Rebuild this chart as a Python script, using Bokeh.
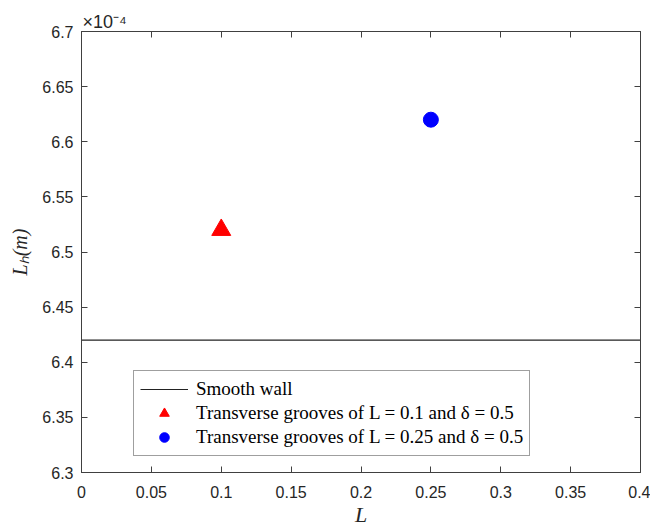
from bokeh.plotting import figure
from bokeh.models import (LinearAxis, FixedTicker, Legend, LegendItem, Range1d,
                          CustomJSTickFormatter)
from bokeh.embed import file_html
from bokeh.resources import INLINE

# ---- data (Lh values in units of 1e-4 m) ----
x_smooth = [0.0, 0.4]
lh_smooth = [6.42, 6.42]
x_grooves_01 = [0.1]
lh_grooves_01 = [6.52]
x_grooves_025 = [0.25]
lh_grooves_025 = [6.62]

x_ticks = [0, 0.05, 0.1, 0.15, 0.2, 0.25, 0.3, 0.35, 0.4]
x_tick_labels = ["0", "0.05", "0.1", "0.15", "0.2", "0.25", "0.3", "0.35", "0.4"]
y_ticks = [6.3, 6.35, 6.4, 6.45, 6.5, 6.55, 6.6, 6.65, 6.7]
y_tick_labels = ["6.3", "6.35", "6.4", "6.45", "6.5", "6.55", "6.6", "6.65", "6.7"]

legend_labels = ["Smooth wall",
                 "Transverse grooves of L = 0.1 and \u03b4 = 0.5",
                 "Transverse grooves of L = 0.25 and \u03b4 = 0.5"]
scale_text = "\u00d710\u207b\u2074"

AX = "#404040"
TXT = "#262626"
SANS = "Liberation Sans"
SERIF = "Liberation Serif"

p = figure(frame_width=559, frame_height=441,
           min_border_left=81, min_border_right=10,
           min_border_top=31, min_border_bottom=52,
           x_range=Range1d(0, 0.4), y_range=Range1d(6.3, 6.7),
           output_backend="svg", toolbar_location=None,
           background_fill_color="white", border_fill_color="white")
p.xgrid.visible = False
p.ygrid.visible = False
p.outline_line_color = AX
p.outline_line_width = 1

# exponent shown above the frame
p.title.text = scale_text
p.title.align = "left"
p.title.offset = 1
p.title.text_font = SANS
p.title.text_font_style = "normal"
p.title.text_font_size = "18px"
p.title.text_color = TXT
p.title.standoff = 0

# smooth wall line
r_smooth = p.line(x_smooth, lh_smooth, line_color="#222222", line_width=1.2)
r_tri = p.scatter(x_grooves_01, lh_grooves_01, marker="triangle", size=19,
                  fill_color="#ff0000", line_color="#ff0000")
r_circ = p.scatter(x_grooves_025, lh_grooves_025, marker="circle", size=15,
                   fill_color="#0000ff", line_color="#0000ff")

def style_axis(ax, labels_on):
    ax.axis_line_color = AX
    ax.major_tick_line_color = AX
    ax.major_tick_in = 6
    ax.major_tick_out = 0
    ax.minor_tick_line_color = None
    ax.major_label_text_color = TXT
    ax.major_label_text_font = SANS
    ax.major_label_text_font_size = "16px"
    if not labels_on:
        ax.formatter = CustomJSTickFormatter(code="return '';")
        ax.major_label_standoff = 0

xa = p.xaxis[0]
xa.ticker = FixedTicker(ticks=x_ticks)
xa.major_label_overrides = {t: s for t, s in zip(x_ticks, x_tick_labels)}
style_axis(xa, True)
xa.major_label_standoff = 13
xa.axis_label = "L"
xa.axis_label_text_font = SERIF
xa.axis_label_text_font_style = "italic"
xa.axis_label_text_font_size = "22px"
xa.axis_label_text_color = TXT
xa.axis_label_standoff = 1

ya = p.yaxis[0]
ya.ticker = FixedTicker(ticks=y_ticks)
ya.major_label_overrides = {t: s for t, s in zip(y_ticks, y_tick_labels)}
style_axis(ya, True)
ya.major_label_standoff = 8
ya.axis_label = "L\u2095(m)"
ya.axis_label_text_font = SERIF
ya.axis_label_text_font_style = "italic"
ya.axis_label_text_font_size = "20px"
ya.axis_label_text_color = TXT
ya.axis_label_standoff = 8

top_ax = LinearAxis(ticker=FixedTicker(ticks=x_ticks))
style_axis(top_ax, False)
p.add_layout(top_ax, "above")
right_ax = LinearAxis(ticker=FixedTicker(ticks=y_ticks))
style_axis(right_ax, False)
p.add_layout(right_ax, "right")

legend = Legend(items=[LegendItem(label=legend_labels[0], renderers=[r_smooth]),
                       LegendItem(label=legend_labels[1], renderers=[r_tri]),
                       LegendItem(label=legend_labels[2], renderers=[r_circ])],
                location=(52, 16))
legend.label_text_font = SERIF
legend.label_text_font_size = "19px"
legend.label_text_color = "black"
legend.glyph_width = 48
legend.glyph_height = 24
legend.label_height = 22
legend.label_standoff = 8
legend.spacing = 0
legend.padding = 6
legend.margin = 0
legend.border_line_color = AX
legend.border_line_width = 1
legend.background_fill_color = "white"
legend.background_fill_alpha = 1
p.add_layout(legend, "center")

open("out.html", "w").write(file_html(p, INLINE))
